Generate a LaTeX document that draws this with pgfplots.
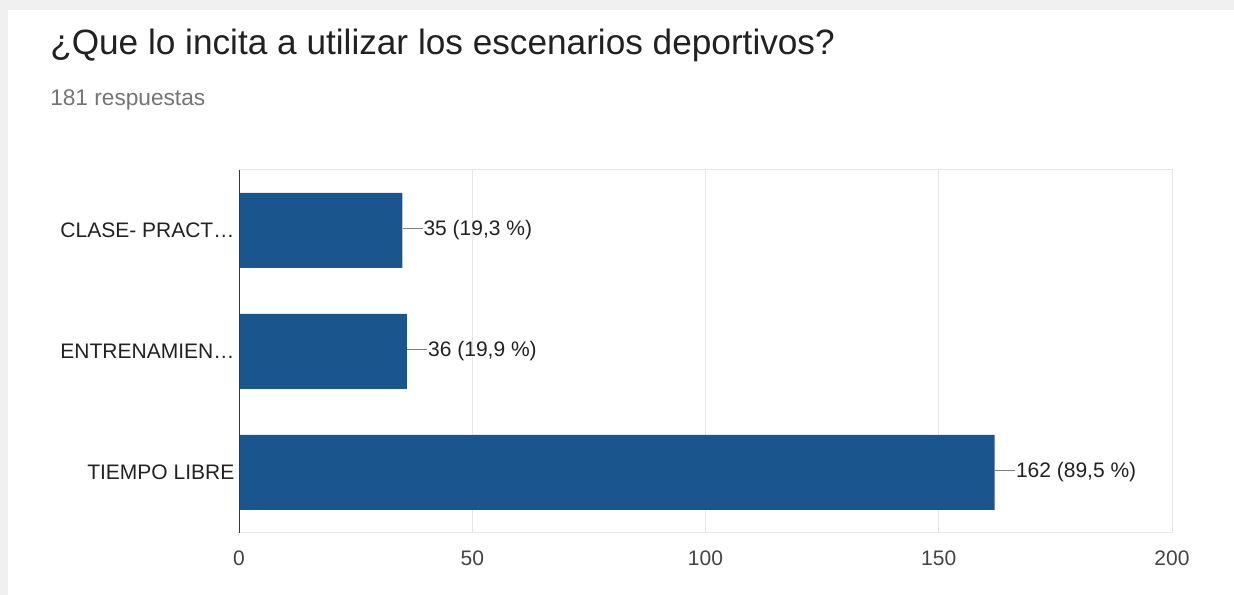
\documentclass[border=0pt]{standalone}
\usepackage{fontspec}
\setmainfont{Liberation Sans}
\usepackage{pgfplots}
\pgfplotsset{compat=1.18}
\definecolor{barblue}{RGB}{26,86,141}
\definecolor{gridgray}{RGB}{230,230,230}
\definecolor{titlecol}{RGB}{33,33,33}
\definecolor{subcol}{RGB}{117,117,117}
\definecolor{tickcol}{RGB}{68,68,68}
\definecolor{labcol}{RGB}{34,34,34}
\definecolor{shadow}{RGB}{240,240,240}
\definecolor{conn}{RGB}{128,128,128}
\begin{document}
\begin{tikzpicture}
\fill[shadow] (0,0) rectangle (925.5pt,446.25pt);
\fill[white] (6pt,0) rectangle (925.5pt,438.75pt);
\path[use as bounding box] (0,0) rectangle (925.5pt,446.25pt);
\node[anchor=base west, inner sep=0pt, text=titlecol, font=\fontsize{26.4}{30}\selectfont] at (37.5pt,405pt) {¿Que lo incita a utilizar los escenarios deportivos?};
\node[anchor=base west, inner sep=0pt, text=subcol, font=\fontsize{17}{20}\selectfont] at (37.5pt,366.75pt) {181 respuestas};
\begin{axis}[
  at={(179.25pt,46.5pt)}, anchor=south west,
  scale only axis, width=699.75pt, height=272.25pt,
  xbar, bar width=56.25pt,
  xmin=0, xmax=200, ymin=-0.5, ymax=2.5,
  xtick={0,50,100,150,200},
  ytick={0,1,2},
  yticklabels={TIEMPO LIBRE, ENTRENAMIEN…, CLASE- PRACT…},
  major tick length=0pt,
  xmajorgrids, grid style={draw=gridgray, line width=0.75pt},
  axis line style={draw=gridgray, line width=0.75pt},
  /pgf/number format/assume math mode=true,
  xticklabel style={text=tickcol, font=\fontsize{15.75}{18}\selectfont, anchor=north, yshift=-9.5pt},
  yticklabel style={text=labcol, font=\fontsize{15.75}{18}\selectfont, anchor=east},
  point meta=explicit symbolic,
  nodes near coords={\textcolor{conn}{\rule[0.33em]{15pt}{0.9pt}}\hspace{0.75pt}\pgfplotspointmeta},
  every node near coord/.append style={anchor=west, inner sep=0pt, xshift=0pt, text=labcol, font=\fontsize{15.75}{18}\selectfont},
]
\addplot[fill=barblue, draw=none] coordinates {
  (162,0) [162 (89,5 \%)]
  (36,1) [36 (19,9 \%)]
  (35,2) [35 (19,3 \%)]
};
\draw[black!78, line width=1.2pt] (axis cs:0,-0.5) -- (axis cs:0,2.5);
\end{axis}
\end{tikzpicture}
\end{document}
